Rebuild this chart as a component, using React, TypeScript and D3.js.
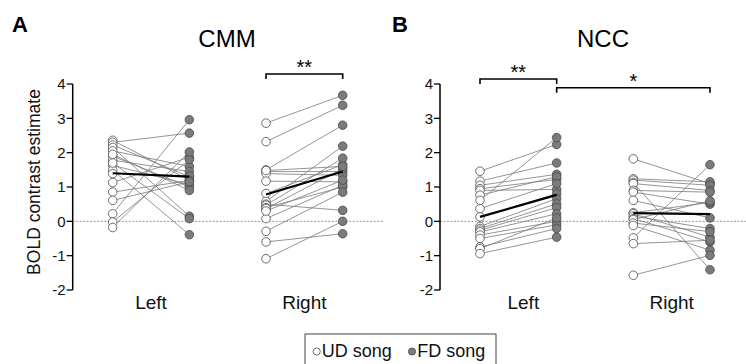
import React from "react";
import * as d3 from "d3";

// ---------- data ----------
const conditions = ["UD song", "FD song"];
const hemispheres = ["Left", "Right"];
const yTicks = [-2, -1, 0, 1, 2, 3, 4];

// CMM
const cmmLeftUD = [2.36, 2.3, 2.22, 2.15, 2.05, 1.9, 1.78, 1.63, 1.49, 1.39, 1.13, 0.85, 0.61, 0.22, -0.02, -0.18, 1.7, 1.95];
const cmmLeftFD = [1.2, 2.57, 1.3, 0.15, 1.6, 1.0, 1.45, 1.07, -0.39, 1.32, 1.87, 1.19, 1.15, 2.96, 1.8, 2.02, 0.08, 0.9];
const cmmRightUD = [2.86, 2.32, 1.5, 1.45, 1.39, 1.17, 0.81, 0.58, 0.5, 0.47, 0.4, 0.37, 0.08, -0.29, -0.6, -1.09, 1.48, 0.3];
const cmmRightFD = [3.67, 3.38, 2.8, 1.45, 1.34, 1.15, 1.65, 2.19, 0.32, 1.84, 1.0, 1.53, 1.05, 0.85, -0.36, 0.0, 1.6, 1.2];
const cmmMeans = [[1.4, 1.3], [0.78, 1.45]];

// NCC
const nccLeftUD = [1.46, 1.17, 1.05, 0.95, 0.9, 0.76, 0.61, 0.37, 0.13, -0.15, -0.21, -0.26, -0.31, -0.4, -0.5, -0.75, -0.8, -0.94];
const nccLeftFD = [2.24, 1.7, 1.37, 1.22, 0.93, 1.3, 2.44, 1.1, 0.8, 0.66, 0.51, 0.4, 0.22, 0.0, -0.1, -0.21, 0.1, -0.46];
const nccRightUD = [1.82, 1.24, 1.2, 1.13, 1.1, 0.9, 0.85, 0.61, 0.25, 0.22, 0.15, 0.08, 0.05, -0.05, -0.12, -0.48, -0.65, -1.57];
const nccRightFD = [1.1, 1.15, 1.05, -1.41, 0.9, 0.85, 0.5, 0.1, 0.55, -0.46, -0.21, -0.6, 0.6, -0.3, -0.84, 1.65, -0.55, -0.99];
const nccMeans = [[0.13, 0.77], [0.24, 0.21]];

type Panel = {
  letter: string;
  title: string;
  x0: number;
  pairs: [number[], number[]][];
  means: number[][];
  brackets: { from: number; to: number; level: number; label: string }[];
  zeroEnd: number;
};

const panels: Panel[] = [
  {
    letter: "A",
    title: "CMM",
    x0: 112.7,
    pairs: [[cmmLeftUD, cmmLeftFD], [cmmRightUD, cmmRightFD]],
    means: cmmMeans,
    brackets: [{ from: 2, to: 3, level: 74, label: "**" }],
    zeroEnd: 383,
  },
  {
    letter: "B",
    title: "NCC",
    x0: 480,
    pairs: [[nccLeftUD, nccLeftFD], [nccRightUD, nccRightFD]],
    means: nccMeans,
    brackets: [
      { from: 0, to: 1, level: 79, label: "**" },
      { from: 1, to: 3, level: 87.7, label: "*" },
    ],
    zeroEnd: 746,
  },
];

const FONT = "'Liberation Sans', Arial, sans-serif";
const UD_FILL = "#ffffff";
const FD_FILL = "#7b7b7b";
const PT_STROKE = "#4a4a4a";

export default function App() {
  const y = d3.scaleLinear().domain([-2, 4]).range([290, 84]);
  const slots = ["LUD", "LFD", "RUD", "RFD"];

  return (
    <svg
      width={746}
      height={364}
      style={{ position: "absolute", left: 0, top: 0, background: "#fff" }}
      fontFamily={FONT}
    >
      {/* y axis label */}
      <text
        transform={`translate(40,182) rotate(-90)`}
        textAnchor="middle"
        fontSize={17.5}
        fill="#111"
      >
        BOLD contrast estimate
      </text>

      {panels.map((p, pi) => {
        const x = d3.scalePoint<string>().domain(slots).range([p.x0, p.x0 + 230]);
        const axisX = p.x0 - 40;
        return (
          <g key={pi}>
            <text x={pi === 0 ? 12 : 392} y={32} fontSize={22} fontWeight="bold" fill="#000">
              {p.letter}
            </text>
            <text x={pi === 0 ? 227 : 603} y={47} fontSize={24} textAnchor="middle" fill="#000">
              {p.title}
            </text>

            {/* zero line */}
            <line
              x1={axisX}
              x2={p.zeroEnd}
              y1={y(0)}
              y2={y(0)}
              stroke="#777"
              strokeWidth={0.8}
              strokeDasharray="2,1.5"
            />

            {/* axis */}
            <line x1={axisX} x2={axisX} y1={y(4)} y2={y(-2)} stroke="#000" strokeWidth={1.5} />
            {yTicks.map((t) => (
              <g key={t}>
                <line x1={axisX - 6} x2={axisX} y1={y(t)} y2={y(t)} stroke="#000" strokeWidth={1.3} />
                <text
                  x={axisX - 7}
                  y={y(t)}
                  dy="0.36em"
                  textAnchor="end"
                  fontSize={15}
                  fill="#111"
                >
                  {t}
                </text>
              </g>
            ))}

            {/* category labels */}
            {hemispheres.map((h, hi) => {
              const cx = ((x(slots[hi * 2]) as number) + (x(slots[hi * 2 + 1]) as number)) / 2;
              return (
                <text key={h} x={cx + (pi === 1 && hi === 0 ? 5 : 0)} y={309} textAnchor="middle" fontSize={19} fill="#111">
                  {h}
                </text>
              );
            })}

            {/* paired lines */}
            {p.pairs.map(([ud, fd], hi) => {
              const xa = x(slots[hi * 2]) as number;
              const xb = x(slots[hi * 2 + 1]) as number;
              return (
                <g key={"l" + hi}>
                  {ud.map((v, i) => (
                    <line
                      key={i}
                      x1={xa}
                      x2={xb}
                      y1={y(v)}
                      y2={y(fd[i])}
                      stroke="#7a7a7a"
                      strokeWidth={0.8}
                    />
                  ))}
                </g>
              );
            })}

            {/* points */}
            {p.pairs.map(([ud, fd], hi) => {
              const xa = x(slots[hi * 2]) as number;
              const xb = x(slots[hi * 2 + 1]) as number;
              return (
                <g key={"p" + hi}>
                  {ud.map((v, i) => (
                    <circle key={"u" + i} cx={xa} cy={y(v)} r={4.3} fill={UD_FILL} stroke={PT_STROKE} strokeWidth={0.8} />
                  ))}
                  {fd.map((v, i) => (
                    <circle key={"f" + i} cx={xb} cy={y(v)} r={4.3} fill={FD_FILL} stroke={PT_STROKE} strokeWidth={0.8} />
                  ))}
                </g>
              );
            })}

            {/* mean lines */}
            {p.means.map((m, hi) => (
              <line
                key={"m" + hi}
                x1={x(slots[hi * 2]) as number}
                x2={x(slots[hi * 2 + 1]) as number}
                y1={y(m[0])}
                y2={y(m[1])}
                stroke="#000"
                strokeWidth={2.2}
              />
            ))}

            {/* brackets */}
            {p.brackets.map((b, bi) => {
              const xa = x(slots[b.from]) as number;
              const xb = x(slots[b.to]) as number;
              return (
                <g key={"b" + bi}>
                  <path
                    d={`M${xa},${b.level + 5}V${b.level}H${xb}V${b.level + 5}`}
                    fill="none"
                    stroke="#000"
                    strokeWidth={1.6}
                  />
                  <text x={(xa + xb) / 2} y={b.level} textAnchor="middle" fontSize={20} fill="#000">
                    {b.label}
                  </text>
                </g>
              );
            })}
          </g>
        );
      })}

      {/* legend */}
      <rect x={305} y={334} width={191} height={40} fill="#fff" stroke="#444" strokeWidth={1} />
      <circle cx={316.7} cy={351.5} r={3.6} fill={UD_FILL} stroke={PT_STROKE} strokeWidth={0.8} />
      <text x={321.7} y={357} fontSize={18} fill="#111">
        {conditions[0]}
      </text>
      <circle cx={412} cy={351.5} r={3.6} fill={FD_FILL} stroke={PT_STROKE} strokeWidth={0.8} />
      <text x={417.3} y={357} fontSize={18} fill="#111">
        {conditions[1]}
      </text>
    </svg>
  );
}
